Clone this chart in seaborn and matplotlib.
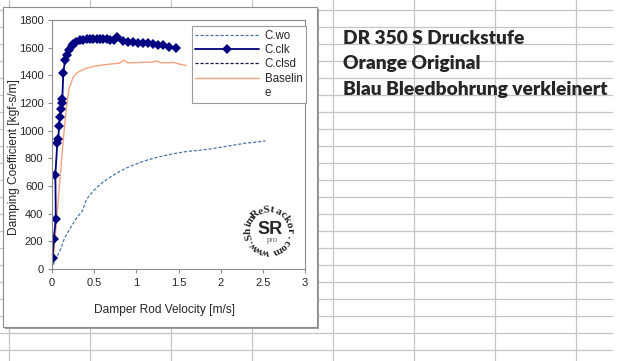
import numpy as np
import seaborn as sns
import matplotlib.pyplot as plt
from matplotlib.lines import Line2D
from matplotlib.patches import Rectangle

# --- values ---
wo_v = [0.015, 0.05, 0.1, 0.15, 0.23, 0.3, 0.36, 0.4, 0.43, 0.5, 0.55, 0.6, 0.7, 0.8, 0.9,
        1.0, 1.1, 1.2, 1.3, 1.4, 1.5, 1.6, 1.75, 1.9, 2.0, 2.15, 2.3, 2.4, 2.53]
wo_c = [30, 80, 140, 225, 310, 375, 420, 490, 520, 570, 600, 625, 668, 705, 735,
        760, 782, 800, 815, 828, 840, 850, 858, 870, 880, 895, 910, 916, 925]

clk_v = [0.008, 0.02, 0.045, 0.04, 0.063, 0.075, 0.083, 0.095, 0.103, 0.113, 0.122, 0.134,
         0.154, 0.174, 0.205, 0.233, 0.253, 0.29, 0.33, 0.37, 0.41, 0.45, 0.49, 0.53, 0.57,
         0.61, 0.65, 0.69, 0.73, 0.775, 0.838, 0.897, 0.957, 1.016, 1.075, 1.134, 1.194,
         1.261, 1.32, 1.391, 1.47]
clk_c = [80, 215, 359, 682, 913, 940, 1032, 1101, 1160, 1200, 1227, 1415,
         1508, 1547, 1580, 1610, 1628, 1643, 1653, 1658, 1660, 1660, 1660, 1660, 1660,
         1660, 1660, 1658, 1655, 1675, 1648, 1643, 1639, 1636, 1634, 1636, 1627,
         1619, 1619, 1603, 1595]

clsd_v = []
clsd_c = []

base_v = [0.02, 0.06, 0.10, 0.14, 0.17, 0.20, 0.25, 0.30, 0.40, 0.50, 0.60, 0.70, 0.80,
          0.85, 0.90, 1.00, 1.10, 1.20, 1.23, 1.30, 1.40, 1.45, 1.52, 1.59]
base_c = [100, 400, 690, 975, 1160, 1300, 1385, 1420, 1450, 1465, 1475, 1482, 1488,
          1510, 1490, 1492, 1494, 1496, 1504, 1490, 1492, 1493, 1480, 1472]

legend_labels = ['C.wo', 'C.clk', 'C.clsd', 'Baselin', 'e']
x_ticks = [0, 0.5, 1, 1.5, 2, 2.5, 3]
x_tick_labels = ['0', '0.5', '1', '1.5', '2', '2.5', '3']
y_ticks = list(range(0, 1801, 200))
notes = ['DR 350 S Druckstufe', 'Orange Original', 'Blau Bleedbohrung verkleinert']
logo_ring = 'www.ShimReStackor.com'

sns.set_style('white')
plt.rcParams['font.family'] = ['Liberation Sans', 'DejaVu Sans']

W, H = 625, 361
fig = plt.figure(figsize=(W / 100, H / 100), dpi=100)

# spreadsheet behind the chart (pixel coords, y down)
bg = fig.add_axes([0, 0, 1, 1])
bg.set_xlim(0, W)
bg.set_ylim(H, 0)
bg.axis('off')
for x in np.arange(9, 600, 81):
    bg.plot([x, x], [0, H], color='#c4c4c4', lw=0.9, zorder=1)
for y in np.arange(10.3, H, 17):
    bg.plot([0, 612], [y, y], color='#c4c4c4', lw=0.9, zorder=1)

# chart area + shadow
bg.add_patch(Rectangle((5, 9), 314, 320, facecolor='#9c9c9c', edgecolor='none', zorder=2))
bg.add_patch(Rectangle((3, 7), 314, 320, facecolor='white', edgecolor='#8c8c8c', lw=0.8, zorder=3))

# watermark logo
cx, cy, r = 269, 231, 21
for ch, a in zip(logo_ring, np.linspace(-100, -425, len(logo_ring))):
    t = np.deg2rad(a)
    bg.text(cx + r * np.cos(t), cy - r * np.sin(t), ch, rotation=a - 90,
            rotation_mode='anchor', ha='center', va='center', fontsize=8,
            fontweight='bold', family='Liberation Serif', zorder=4)
bg.text(cx + 1, cy - 2, 'SR', fontsize=13, fontweight='bold', ha='center', va='center', zorder=4)
bg.text(cx + 3, cy + 9, 'pro', fontsize=5.5, color='#666666', ha='center', va='center', zorder=4)

# plot area
ax = fig.add_axes([52 / W, 1 - 269 / H, 253 / W, 249 / H])
ax.patch.set_alpha(0)

sns.lineplot(x=wo_v, y=wo_c, ax=ax, color='#4a72a8', lw=0.9, linestyle=(0, (2.5, 1.5)),
             sort=False, estimator=None, label='C.wo')
sns.lineplot(x=base_v, y=base_c, ax=ax, color='#f2a27e', lw=1.0,
             sort=False, estimator=None, label='Baseline')
sns.lineplot(x=clk_v, y=clk_c, ax=ax, color='#000080', lw=1.3, marker='D', markersize=4.8,
             markeredgewidth=0, sort=False, estimator=None, label='C.clk')
ax.plot(clsd_v, clsd_c, color='#141440', lw=0.9, linestyle=(0, (2.5, 1.5)), label='C.clsd')

lines = {ln.get_label(): ln for ln in ax.get_lines()}
handles = [lines['C.wo'], lines['C.clk'], lines['C.clsd'], lines['Baseline'],
           Line2D([], [], color='none')]
leg = ax.legend(handles, legend_labels, loc='upper right',
                bbox_to_anchor=(306 / W, 1 - 26 / H), bbox_transform=fig.transFigure,
                borderaxespad=0, frameon=True, fancybox=False, edgecolor='#9a9a9a',
                framealpha=1, fontsize=8.3, handlelength=5.5, handletextpad=0.5,
                labelspacing=0.2, borderpad=0.32)
leg.get_frame().set_linewidth(0.8)

ax.set_xlim(0, 3)
ax.set_ylim(0, 1800)
ax.set_xticks(x_ticks, x_tick_labels)
ax.set_yticks(y_ticks)
for s in ax.spines.values():
    s.set_color('#8c8c8c')
    s.set_linewidth(0.8)
ax.tick_params(bottom=True, left=True, direction='out', length=3, width=0.8,
               color='#8c8c8c', labelsize=8, pad=3.2)

ax.set_xlabel('Damper Rod Velocity [m/s]', fontsize=8.6)
ax.xaxis.set_label_coords((164 - 52) / 253, (269 - 310) / 249)
ax.xaxis.label.set_va('center')
ax.set_ylabel('Damping Coefficient [kgf-s/m]', fontsize=8.6)
ax.yaxis.set_label_coords((14 - 52) / 253, (269 - 157) / 249)
ax.yaxis.label.set_va('center')

# notes on the sheet, sized to the reference width
fig.canvas.draw()
rend = fig.canvas.get_renderer()
fs = 12
txts = [fig.text(343 / W, 1 - yb / H, s, family=['Lato', 'DejaVu Sans'], fontweight='heavy',
                 fontsize=fs, va='baseline') for s, yb in zip(notes, [44.5, 69.5, 94.5])]
w = txts[2].get_window_extent(rend).width
for t in txts:
    t.set_fontsize(fs * 264 / w)

fig.savefig('out.png', dpi=100)
